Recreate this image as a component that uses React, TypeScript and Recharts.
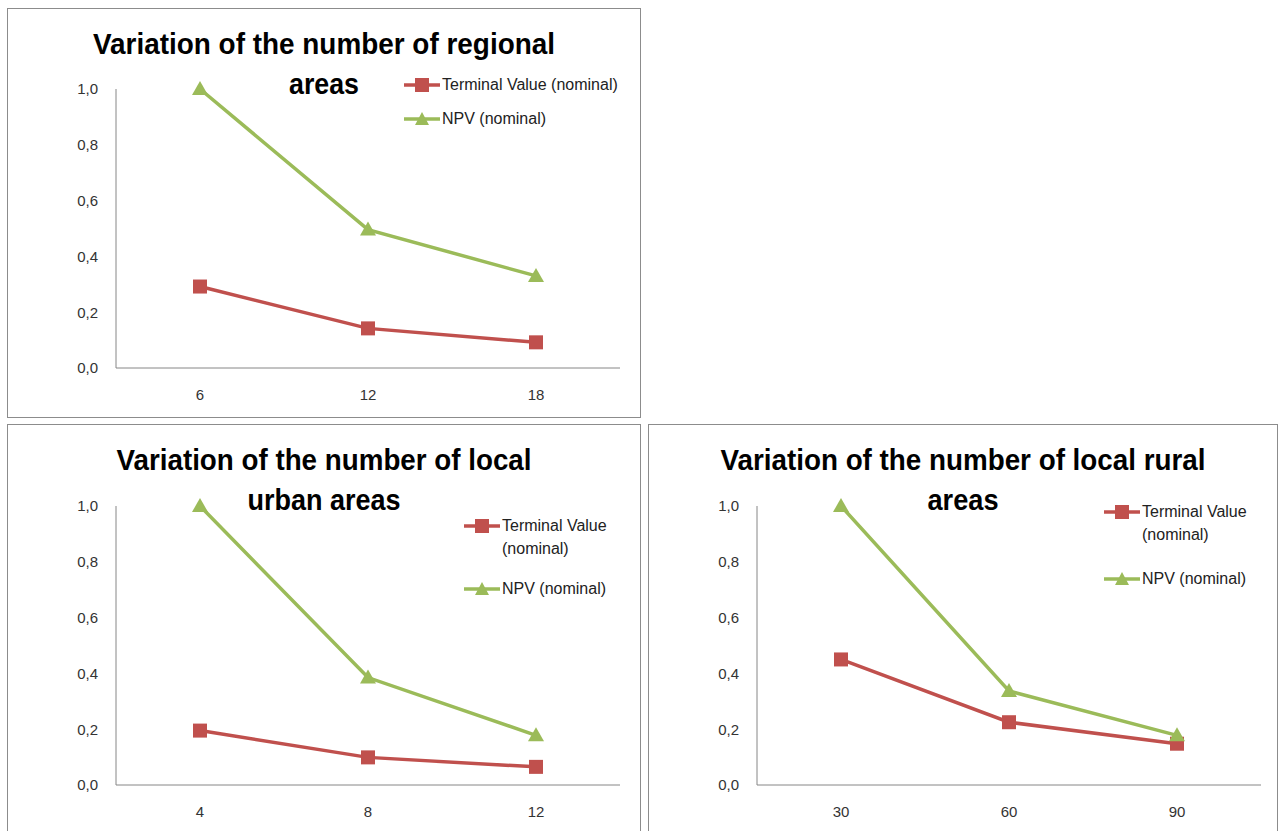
import { LineChart, Line, XAxis, YAxis, Legend } from 'recharts';

// chart 1: regional areas
const regionalCats = ['6', '12', '18'];
const regionalTerminal = [0.292, 0.142, 0.092];
const regionalNpv = [1.0, 0.496, 0.33];

// chart 2: local urban areas
const urbanCats = ['4', '8', '12'];
const urbanTerminal = [0.195, 0.099, 0.065];
const urbanNpv = [1.0, 0.385, 0.178];

// chart 3: local rural areas
const ruralCats = ['30', '60', '90'];
const ruralTerminal = [0.45, 0.225, 0.148];
const ruralNpv = [1.0, 0.337, 0.178];

const yTicks = [0, 0.2, 0.4, 0.6, 0.8, 1.0];
const seriesNames = ['Terminal Value (nominal)', 'NPV (nominal)'];

const RED = '#C0504D';
const GREEN = '#9BBB59';
const AXIS = '#868686';
const FONT = "'Liberation Sans', Arial, sans-serif";
const NARROW = "'Liberation Sans Narrow', 'Liberation Sans', Arial, sans-serif";

const fmt = (v: number) => v.toFixed(1).replace('.', ',');

const Square = (props: any) => {
  const { cx, cy, index } = props;
  if (cx == null || cy == null) return <g key={index} />;
  return <rect key={index} x={cx - 7} y={cy - 7} width={14} height={14} fill={RED} />;
};

const Triangle = (props: any) => {
  const { cx, cy, index } = props;
  if (cx == null || cy == null) return <g key={index} />;
  return <polygon key={index} points={`${cx},${cy - 8} ${cx + 8},${cy + 6} ${cx - 8},${cy + 6}`} fill={GREEN} />;
};

function LegendIcon({ color, square }: { color: string; square: boolean }) {
  return (
    <svg width={36} height={16} style={{ flex: 'none', marginRight: 2 }}>
      <line x1={0} y1={8} x2={36} y2={8} stroke={color} strokeWidth={3.5} />
      {square ? (
        <rect x={11} y={1} width={14} height={14} fill={color} />
      ) : (
        <polygon points="18,1 25,14 11,14" fill={color} />
      )}
    </svg>
  );
}

function makeLegend(textWidth: number, gap: number) {
  return () => (
    <div style={{ fontFamily: FONT, fontSize: 16, color: '#222', lineHeight: '23px', textAlign: 'left' }}>
      {seriesNames.map((name, i) => (
        <div key={name} style={{ display: 'flex', alignItems: 'flex-start', marginBottom: i === 0 ? gap : 0 }}>
          <div style={{ marginTop: 3 }}>
            <LegendIcon color={i === 0 ? RED : GREEN} square={i === 0} />
          </div>
          <div style={{ width: textWidth }}>{name}</div>
        </div>
      ))}
    </div>
  );
}

interface PanelProps {
  left: number;
  top: number;
  width: number;
  height: number;
  cats: string[];
  terminal: number[];
  npv: number[];
  titles: { text: string; len: number }[];
  plotTop: number;
  plotBottom: number;
  legendLeft: number;
  legendTop: number;
  legendTextWidth: number;
  legendGap: number;
}

function Panel(p: PanelProps) {
  const data = p.cats.map((c, i) => ({
    cat: c,
    [seriesNames[0]]: p.terminal[i],
    [seriesNames[1]]: p.npv[i],
  }));
  const yAxisW = 50;
  return (
    <div
      style={{
        position: 'absolute',
        left: p.left,
        top: p.top,
        width: p.width,
        height: p.height,
        border: '1px solid #8c8c8c',
        boxSizing: 'border-box',
        background: '#fff',
      }}
    >
      <LineChart
        width={p.width - 2}
        height={p.height - 2}
        data={data}
        margin={{ top: p.plotTop, left: 108 - yAxisW, right: p.width - 614, bottom: p.height - p.plotBottom - 30 }}
      >
        <XAxis
          dataKey="cat"
          stroke={AXIS}
          tickLine={false}
          tickSize={0}
          tickMargin={21}
          height={30}
          padding={{ left: 84, right: 84 }}
          tick={{ fill: '#333', fontSize: 15, fontFamily: FONT }}
        />
        <YAxis
          domain={[0, 1]}
          ticks={yTicks}
          tickFormatter={fmt}
          width={yAxisW}
          stroke={AXIS}
          tickLine={false}
          tickSize={0}
          tickMargin={18}
          tick={{ fill: '#333', fontSize: 15, fontFamily: FONT }}
        />
        <Legend
          layout="horizontal"
          verticalAlign="middle"
          align="center"
          content={makeLegend(p.legendTextWidth, p.legendGap)}
          wrapperStyle={{ left: p.legendLeft, top: p.legendTop - 12, right: 'auto', width: 'auto' }}
        />
        <Line
          type="linear"
          dataKey={seriesNames[0]}
          stroke={RED}
          strokeWidth={3.5}
          dot={Square}
          activeDot={false}
          isAnimationActive={false}
        />
        <Line
          type="linear"
          dataKey={seriesNames[1]}
          stroke={GREEN}
          strokeWidth={3.5}
          dot={Triangle}
          activeDot={false}
          isAnimationActive={false}
        />
      </LineChart>
      <svg
        width={p.width - 2}
        height={110}
        style={{ position: 'absolute', left: 0, top: 0, pointerEvents: 'none' }}
      >
        {p.titles.map((t, i) => (
          <text
            key={t.text}
            x={(p.width - 2) / 2}
            y={45 + i * 40}
            textAnchor="middle"
            fontFamily={NARROW}
            fontWeight="bold"
            fontSize={29}
            fill="#000"
            textLength={t.len}
            lengthAdjust="spacingAndGlyphs"
          >
            {t.text}
          </text>
        ))}
      </svg>
    </div>
  );
}

export default function App() {
  return (
    <div style={{ position: 'absolute', left: 0, top: 0, width: 1279, height: 831, overflow: 'hidden', background: '#fff' }}>
      <Panel
        left={7}
        top={8}
        width={634}
        height={410}
        cats={regionalCats}
        terminal={regionalTerminal}
        npv={regionalNpv}
        titles={[
          { text: 'Variation of the number of regional', len: 462 },
          { text: 'areas', len: 70 },
        ]}
        plotTop={80}
        plotBottom={361}
        legendLeft={396}
        legendTop={76}
        legendTextWidth={200}
        legendGap={8}
      />
      <Panel
        left={7}
        top={424}
        width={634}
        height={412}
        cats={urbanCats}
        terminal={urbanTerminal}
        npv={urbanNpv}
        titles={[
          { text: 'Variation of the number of local', len: 415 },
          { text: 'urban areas', len: 153 },
        ]}
        plotTop={81}
        plotBottom={362}
        legendLeft={456}
        legendTop={101}
        legendTextWidth={120}
        legendGap={17}
      />
      <Panel
        left={648}
        top={424}
        width={630}
        height={412}
        cats={ruralCats}
        terminal={ruralTerminal}
        npv={ruralNpv}
        titles={[
          { text: 'Variation of the number of local rural', len: 485 },
          { text: 'areas', len: 71 },
        ]}
        plotTop={81}
        plotBottom={362}
        legendLeft={455}
        legendTop={87}
        legendTextWidth={120}
        legendGap={21}
      />
    </div>
  );
}
